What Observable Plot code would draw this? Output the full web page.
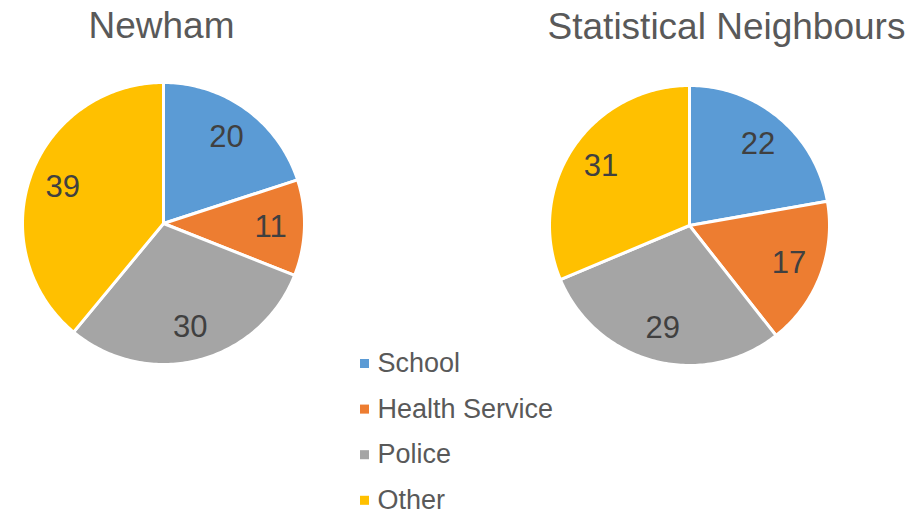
<!DOCTYPE html>
<html>
<head>
<meta charset="utf-8">
<script src="https://cdn.jsdelivr.net/npm/d3@7"></script>
<script src="https://cdn.jsdelivr.net/npm/@observablehq/plot@0.6"></script>
<style>
  html, body { margin: 0; padding: 0; background: #fff; }
  #chart svg { display: block; }
</style>
</head>
<body>
<div id="chart"></div>
<script>
// ---- data ----
const categories = ["School", "Health Service", "Police", "Other"];
const colors = ["#5B9BD5", "#ED7D31", "#A5A5A5", "#FFC000"];
const pieTitles = ["Newham", "Statistical Neighbours"];
const newhamValues = [20, 11, 30, 39];
const neighbourValues = [22, 17, 29, 31];

// ---- layout ----
const W = 912, H = 514;
const pies = [
  {title: pieTitles[0], values: newhamValues, cx: 163, cy: 223, r: 141, tx: 161, ty: 37},
  {title: pieTitles[1], values: neighbourValues, cx: 689, cy: 225, r: 140, tx: 726, ty: 38}
];

const pieGen = d3.pie().sort(null).value(d => d.value);
const slicePts = [];
const labels = [];
pies.forEach((p, pi) => {
  const arcs = pieGen(p.values.map((v, i) => ({value: v, cat: categories[i]})));
  arcs.forEach(a => {
    const id = pi + "-" + a.data.cat;
    slicePts.push({id, cat: a.data.cat, x: p.cx, y: p.cy});
    const steps = Math.max(2, Math.ceil((a.endAngle - a.startAngle) / (Math.PI / 180)));
    for (let k = 0; k <= steps; k++) {
      const t = a.startAngle + (a.endAngle - a.startAngle) * k / steps;
      slicePts.push({id, cat: a.data.cat, x: p.cx + p.r * Math.sin(t), y: p.cy - p.r * Math.cos(t)});
    }
    slicePts.push({id, cat: a.data.cat, x: p.cx, y: p.cy});
    const m = (a.startAngle + a.endAngle) / 2;
    labels.push({x: p.cx + 0.76 * p.r * Math.sin(m), y: p.cy - 0.76 * p.r * Math.cos(m), text: String(a.data.value)});
  });
});

const legendRows = categories.map((c, i) => ({cat: c, x: 364, y: 363 + i * 45.6}));

const chart = Plot.plot({
  width: W, height: H,
  margin: 0,
  x: {domain: [0, W], range: [0, W], axis: null},
  y: {domain: [0, H], range: [0, H], axis: null},
  color: {domain: categories, range: colors},
  style: {fontFamily: "'Liberation Sans', Arial, sans-serif", background: "#fff"},
  marks: [
    Plot.line(slicePts, {x: "x", y: "y", z: "id", fill: "cat", stroke: "#fff", strokeWidth: 3, strokeLinejoin: "round", curve: "linear"}),
    Plot.text(labels, {x: "x", y: "y", text: "text", fill: "#404040", fontSize: 31, textAnchor: "middle", lineAnchor: "middle"}),
    Plot.text(pies, {x: "tx", y: "ty", text: "title", fill: "#595959", fontSize: 37, textAnchor: "middle", lineAnchor: "bottom"}),
    Plot.dot(legendRows, {x: "x", y: "y", fill: "cat", symbol: "square", r: 5.1, stroke: null}),
    Plot.text(legendRows, {x: d => d.x + 13, y: "y", text: "cat", fill: "#595959", fontSize: 27, textAnchor: "start", lineAnchor: "middle"})
  ]
});
document.getElementById("chart").appendChild(chart);
</script>
</body>
</html>
